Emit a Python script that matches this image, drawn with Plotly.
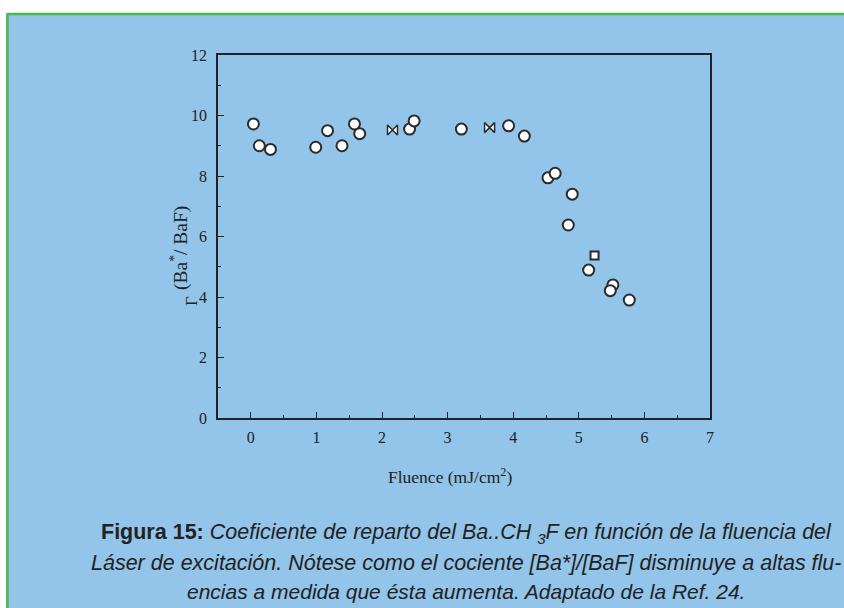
import plotly.graph_objects as go

# Partition coefficient vs. laser fluence
fluence_circ = [0.04, 0.13, 0.30, 0.99, 1.17, 1.39, 1.58, 1.66, 2.42, 2.49, 3.21, 3.93, 4.17,
                4.53, 4.64, 4.90, 4.84, 5.15, 5.52, 5.48, 5.77]
gamma_circ = [9.72, 9.00, 8.88, 8.95, 9.50, 9.00, 9.72, 9.40, 9.55, 9.82, 9.55, 9.66, 9.32,
              7.94, 8.09, 7.40, 6.38, 4.89, 4.40, 4.21, 3.90]
fluence_bow = [2.16, 3.64]
gamma_bow = [9.52, 9.60]
fluence_sq = [5.24]
gamma_sq = [5.37]

x_ticks = [0, 1, 2, 3, 4, 5, 6, 7]
y_ticks = [0, 2, 4, 6, 8, 10, 12]

W, H = 844, 608
L, R, T, B = 218, 134, 55, 190
PW, PH = W - L - R, H - T - B


def px(x):
    return (x - L) / PW


def py(y):
    return (H - B - y) / PH


BLUE = "#93C4E9"
INK = "#1f2328"
SERIF = "Liberation Serif, Times New Roman, serif"
SANS = "Liberation Sans Narrow, Arial Narrow, Liberation Sans, Arial, sans-serif"

mk = dict(color="white", size=11, line=dict(color="#2b2b2b", width=2))

fig = go.Figure()
fig.add_trace(go.Scatter(x=fluence_circ, y=gamma_circ, mode="markers",
                         marker=dict(symbol="circle", **mk)))
fig.add_trace(go.Scatter(x=fluence_bow, y=gamma_bow, mode="markers",
                         marker=dict(symbol="bowtie", color="white", size=10,
                                     line=dict(color="#2b2b2b", width=1.5))))
fig.add_trace(go.Scatter(x=fluence_sq, y=gamma_sq, mode="markers",
                         marker=dict(symbol="square", color="white", size=8,
                                     line=dict(color="#2b2b2b", width=2))))

axis_common = dict(showline=True, linecolor=INK, linewidth=1.5, mirror=True,
                   showgrid=False, zeroline=False, ticks="inside", ticklen=6,
                   tickwidth=1.2, tickcolor=INK,
                   tickfont=dict(family=SERIF, size=16, color="#222"))

fig.update_xaxes(range=[-0.5, 7], tickvals=x_ticks, ticktext=[str(v) for v in x_ticks],
                 minor=dict(dtick=0.5, ticks="inside", ticklen=3, tickcolor=INK, tick0=0),
                 ticklabelstandoff=4, **axis_common)
fig.update_yaxes(range=[0, 12], tickvals=y_ticks, ticktext=[str(v) for v in y_ticks],
                 minor=dict(dtick=1, ticks="inside", ticklen=3, tickcolor=INK, tick0=0),
                 ticklabelstandoff=6, **axis_common)

shapes = [
    # white strip along the top and left edge
    dict(type="rect", xref="paper", yref="paper", x0=px(0), x1=px(W), y0=py(13), y1=py(0),
         fillcolor="white", line=dict(width=0), layer="below"),
    dict(type="rect", xref="paper", yref="paper", x0=px(0), x1=px(6), y0=py(H), y1=py(0),
         fillcolor="white", line=dict(width=0), layer="below"),
    # green frame edges
    dict(type="line", xref="paper", yref="paper", x0=px(7), x1=px(W), y0=py(14), y1=py(14),
         line=dict(color="#48B84C", width=2.5)),
    dict(type="line", xref="paper", yref="paper", x0=px(7.5), x1=px(7.5), y0=py(14), y1=py(H),
         line=dict(color="#48B84C", width=2.5)),
]


def note(text, x, y, size, family, angle=0):
    return dict(text=text, x=px(x), y=py(y), xref="paper", yref="paper", showarrow=False,
                xanchor="center", yanchor="middle", textangle=angle,
                font=dict(family=family, size=size, color="#222"))


annotations = [
    note("Γ", 191, 301, 17, SERIF, -90),
    note("(Ba<sup>*</sup>/ BaF)", 180, 248, 19.5, SERIF, -90),
    note("Fluence (mJ/cm<sup>2</sup>)", 450, 476, 17.5, SERIF),
    note("<b>Figura 15:</b> <i>Coeficiente de reparto del Ba..CH <sub>3</sub>F en función de la fluencia del</i>",
         466, 533, 21.5, SANS),
    note("<i>Láser de excitación. Nótese como el cociente [Ba*]/[BaF] disminuye a altas flu-</i>",
         466, 563, 21.5, SANS),
    note("<i>encias a medida que ésta aumenta. Adaptado de la Ref. 24.</i>",
         466, 591, 21, SANS),
]

fig.update_layout(width=W, height=H, margin=dict(l=L, r=R, t=T, b=B),
                  paper_bgcolor=BLUE, plot_bgcolor=BLUE, showlegend=False,
                  shapes=shapes, annotations=annotations)

fig.write_html("out.html")
